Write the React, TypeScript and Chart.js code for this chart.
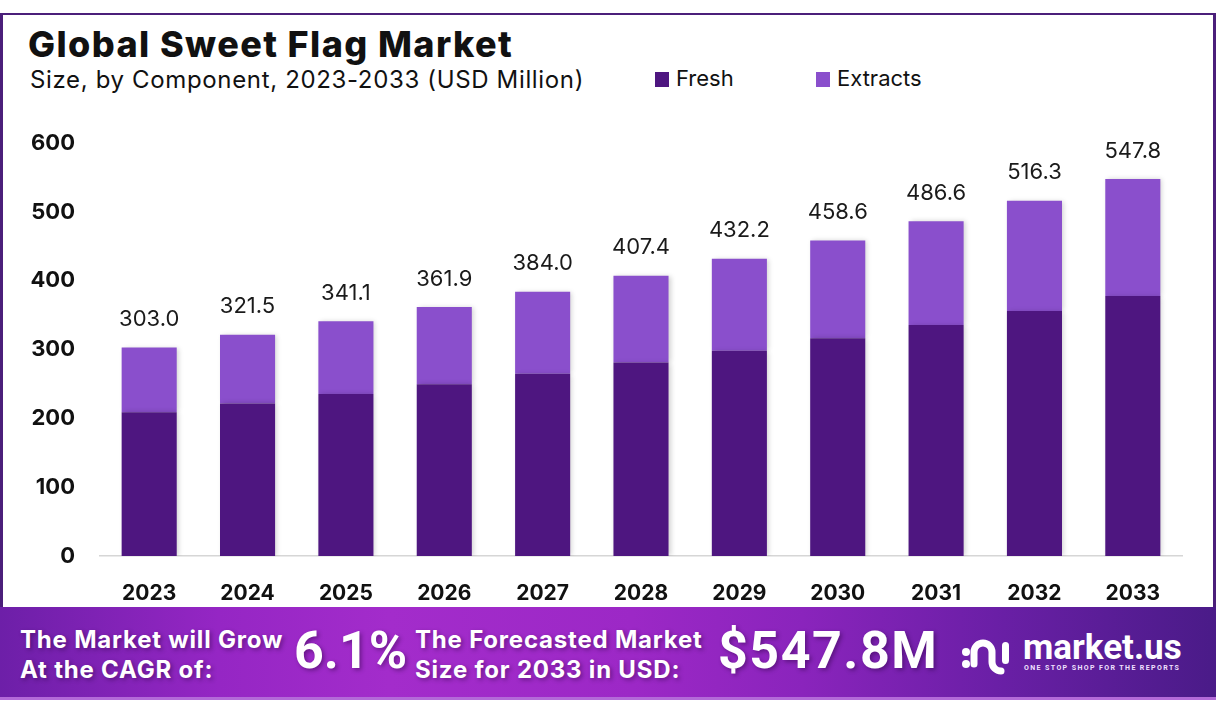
import React, { useEffect, useRef } from "react";
import { Chart, registerables } from "chart.js";

Chart.register(...registerables);

const years = ["2023", "2024", "2025", "2026", "2027", "2028", "2029", "2030", "2031", "2032", "2033"];
const totals = [303.0, 321.5, 341.1, 361.9, 384.0, 407.4, 432.2, 458.6, 486.6, 516.3, 547.8];
const fresh = [209.1, 221.8, 235.4, 249.7, 265.0, 281.1, 298.2, 316.4, 335.8, 356.2, 378.0];
const extracts = [93.9, 99.7, 105.7, 112.2, 119.0, 126.3, 134.0, 142.2, 150.8, 160.1, 169.8];
const yTicks = [0, 100, 200, 300, 400, 500, 600];

const FRESH_COLOR = "#4e1680";
const EXTRACT_COLOR = "#8a4fcc";
const FONT = "Inter, 'Open Sans', sans-serif";

const totalLabels = {
  id: "totalLabels",
  afterDatasetsDraw(chart: any) {
    const ctx = chart.ctx;
    const meta = chart.getDatasetMeta(chart.data.datasets.length - 1);
    ctx.save();
    ctx.fillStyle = "#1a1a1a";
    ctx.font = `400 22px ${FONT}`;
    ctx.textAlign = "center";
    ctx.textBaseline = "middle";
    meta.data.forEach((el: any, i: number) => {
      ctx.fillText(totals[i].toFixed(1), el.x, el.y - 28);
    });
    ctx.restore();
  },
};

const barShadow = {
  id: "barShadow",
  beforeDatasetsDraw(chart: any) {
    const ctx = chart.ctx;
    ctx.save();
    ctx.shadowColor = "rgba(0,0,0,0.18)";
    ctx.shadowBlur = 5;
    ctx.shadowOffsetX = 2;
    ctx.shadowOffsetY = 0;
  },
  afterDatasetsDraw(chart: any) {
    chart.ctx.restore();
  },
};

function BarChart() {
  const ref = useRef<HTMLCanvasElement | null>(null);
  useEffect(() => {
    if (!ref.current) return;
    const chart = new Chart(ref.current, {
      type: "bar",
      data: {
        labels: years,
        datasets: [
          {
            label: "Fresh",
            data: fresh,
            backgroundColor: FRESH_COLOR,
            barPercentage: 0.56,
            categoryPercentage: 1,
          },
          {
            label: "Extracts",
            data: extracts,
            backgroundColor: EXTRACT_COLOR,
            barPercentage: 0.56,
            categoryPercentage: 1,
          },
        ],
      },
      options: {
        animation: false,
        responsive: false,
        maintainAspectRatio: false,
        layout: { padding: { top: 0, left: 0, right: 34, bottom: 0 } },
        plugins: {
          legend: { display: false },
          tooltip: { enabled: false },
          title: { display: false },
        },
        scales: {
          x: {
            stacked: true,
            grid: { display: false, drawTicks: false },
            border: { display: true, color: "#d6d6d6", width: 1.5 },
            ticks: {
              color: "#111",
              font: { family: FONT, size: 21, weight: "bold" },
              padding: 25,
            },
            afterFit(scale: any) {
              scale.height = 51;
            },
          },
          y: {
            stacked: true,
            min: 0,
            max: 600,
            grid: { display: false, drawTicks: false },
            border: { display: false },
            afterBuildTicks(scale: any) {
              scale.ticks = yTicks.map((v) => ({ value: v }));
            },
            ticks: {
              color: "#111",
              font: { family: FONT, size: 22, weight: "bold" },
              padding: 25,
            },
            afterFit(scale: any) {
              scale.width = 100;
            },
          },
        },
      },
      plugins: [barShadow, totalLabels],
    });
    return () => chart.destroy();
  }, []);
  return (
    <canvas
      ref={ref}
      width={1216}
      height={502}
      style={{ position: "absolute", left: 0, top: 105, width: 1216, height: 502 }}
    />
  );
}

function Logo() {
  return (
    <div style={{ position: "absolute", left: 960, top: 632, width: 230, height: 50 }}>
      <svg width="56" height="46" viewBox="0 0 56 46" style={{ position: "absolute", left: 0, top: 0 }}>
        <circle cx="6" cy="20" r="4" fill="#fff" />
        <circle cx="6" cy="32" r="4" fill="#fff" />
        <path d="M14 32 V20 a9 9 0 0 1 18 0 V30 a9 9 0 0 0 9 9" stroke="#fff" strokeWidth="7" fill="none" strokeLinecap="round" />
        <rect x="42" y="10" width="7" height="22" rx="3.5" fill="#fff" />
      </svg>
      <div
        style={{
          position: "absolute",
          left: 63,
          top: -4,
          color: "#fff",
          fontFamily: "Roboto, sans-serif",
          fontWeight: 700,
          fontSize: 35,
          letterSpacing: 0,
          lineHeight: "40px",
        }}
      >
        market.us
      </div>
      <div
        style={{
          position: "absolute",
          left: 64,
          top: 32,
          color: "#f0e0ff",
          fontFamily: "Roboto, sans-serif",
          fontWeight: 700,
          fontSize: 7,
          letterSpacing: 1.4,
          whiteSpace: "nowrap",
        }}
      >
        ONE STOP SHOP FOR THE REPORTS
      </div>
    </div>
  );
}

export default function App() {
  const bannerText: React.CSSProperties = {
    position: "absolute",
    color: "#fff",
    fontFamily: "Roboto, sans-serif",
    fontWeight: 700,
    textShadow: "2px 2px 4px rgba(40,0,60,0.45)",
    whiteSpace: "nowrap",
  };
  const bannerSmall: React.CSSProperties = {
    ...bannerText,
    fontFamily: FONT,
    fontSize: 24,
    letterSpacing: 0.8,
    lineHeight: "30px",
    top: 18,
  };
  return (
    <div
      style={{
        position: "absolute",
        left: 0,
        top: 0,
        width: 1216,
        height: 715,
        background: "#fff",
        overflow: "hidden",
        fontFamily: FONT,
      }}
    >
      {/* frame */}
      <div
        style={{
          position: "absolute",
          left: 0,
          top: 13,
          width: 1216,
          height: 600,
          boxSizing: "border-box",
          borderTop: "2px solid #4b1f7a",
          borderLeft: "3px solid #4b1f7a",
          borderRight: "3px solid #4b1f7a",
        }}
      />
      {/* title */}
      <div
        style={{
          position: "absolute",
          left: 28,
          top: 22,
          fontSize: 36,
          fontWeight: 800,
          color: "#111",
          letterSpacing: 1.4,
          whiteSpace: "nowrap",
        }}
      >
        Global Sweet Flag Market
      </div>
      <div
        style={{
          position: "absolute",
          left: 30,
          top: 65,
          fontSize: 24,
          fontWeight: 400,
          color: "#111",
          letterSpacing: 0.65,
          whiteSpace: "nowrap",
        }}
      >
        Size, by Component, 2023-2033 (USD Million)
      </div>
      {/* legend */}
      <div style={{ position: "absolute", left: 655, top: 72, width: 14, height: 15, background: FRESH_COLOR }} />
      <div style={{ position: "absolute", left: 676, top: 65, fontSize: 22, color: "#111" }}>Fresh</div>
      <div style={{ position: "absolute", left: 816, top: 72, width: 14, height: 15, background: EXTRACT_COLOR }} />
      <div style={{ position: "absolute", left: 837, top: 65, fontSize: 22, color: "#111" }}>Extracts</div>

      <BarChart />

      {/* banner */}
      <div
        style={{
          position: "absolute",
          left: 0,
          top: 607,
          width: 1216,
          height: 93,
          background:
            "linear-gradient(90deg, #6d1fa8 0%, #9526c4 18%, #a32ccb 32%, #9c28c6 52%, #8a24bc 66%, #6a1fa6 82%, #4a1b88 100%)",
          borderBottom: "3px solid #b36ad8",
          boxSizing: "border-box",
        }}
      >
        <div style={{ ...bannerSmall, left: 20 }}>
          The Market will Grow
          <br />
          At the CAGR of:
        </div>
        <div style={{ ...bannerText, left: 294, top: 14, fontSize: 52, lineHeight: "60px" }}>6.1%</div>
        <div style={{ ...bannerSmall, left: 415 }}>
          The Forecasted Market
          <br />
          Size for 2033 in USD:
        </div>
        <div style={{ ...bannerText, left: 718, top: 14, fontSize: 52, lineHeight: "60px", letterSpacing: 1.5 }}>
          $547.8M
        </div>
      </div>
      <Logo />
    </div>
  );
}
